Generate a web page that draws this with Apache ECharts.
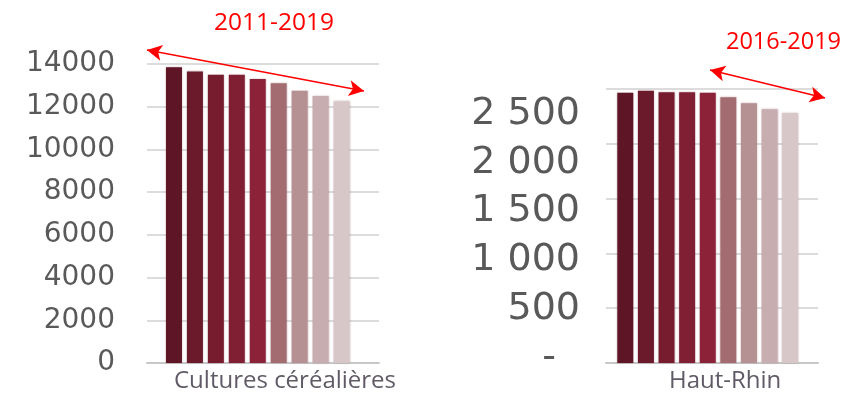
<!DOCTYPE html>
<html>
<head>
<meta charset="utf-8">
<script src="https://cdn.jsdelivr.net/npm/echarts@6/dist/echarts.min.js"></script>
<style>html,body{margin:0;padding:0;background:#fff}#c{width:847px;height:404px}</style>
</head>
<body>
<div id="c"></div>
<script>
const years = ['2011','2012','2013','2014','2015','2016','2017','2018','2019'];
const cerealValues = [13850, 13650, 13500, 13500, 13300, 13100, 12750, 12500, 12250];
const hautRhinValues = [2465, 2485, 2470, 2470, 2465, 2425, 2370, 2315, 2280];
const barColors = ['#5e1525','#6a1a2a','#771c2e','#801f33','#8b2238','#a36c71','#b69194','#c8adb0','#d8c7c9'];
const leftTitle = 'Cultures céréalières';
const rightTitle = 'Haut-Rhin';
const leftPeriod = '2011-2019';
const rightPeriod = '2016-2019';

const chart = echarts.init(document.getElementById('c'), null, {renderer: 'canvas'});
const labelFont = 'DejaVu Sans';
const fmtRight = v => {
  if (v === 0) return '-  ';
  if (v >= 1000) return Math.floor(v / 1000) + ' ' + String(v % 1000).padStart(3, '0');
  return String(v);
};
const fmtLeft = v => String(v);
const hiddenX = (gi) => ({type: 'category', gridIndex: gi, data: years, show: false});

chart.setOption({
  animation: false,
  color: barColors,
  title: [
    {text: leftTitle, left: 169, top: 364, textStyle: {fontFamily: 'Open Sans', fontSize: 24, fontWeight: 'normal', color: '#605a66'}},
    {text: rightTitle, left: 664, top: 364, textStyle: {fontFamily: 'Open Sans', fontSize: 24, fontWeight: 'normal', color: '#605a66'}},
    {text: leftPeriod, left: 209, top: 6, textStyle: {fontFamily: 'Open Sans', fontSize: 24.5, fontWeight: 'normal', color: '#ff0000'}},
    {text: rightPeriod, left: 721, top: 25, textStyle: {fontFamily: 'Open Sans', fontSize: 23.5, fontWeight: 'normal', color: '#ff0000'}}
  ],
  grid: [
    {left: 147, right: 468, top: 64, bottom: 41},      // 0 left gridlines
    {left: 163.5, right: 495, top: 64, bottom: 41},    // 1 left bars
    {left: 606, right: 29, top: 89, bottom: 41},       // 2 right gridlines
    {left: 615, right: 46.5, top: 89, bottom: 41},     // 3 right bars
    {left: 600, right: 29, top: 114, bottom: 46}       // 4 right labels
  ],
  xAxis: [
    {type: 'value', gridIndex: 0, min: 0, max: 1, axisLine: {show: true, onZero: false, lineStyle: {color: '#c8c8c8', width: 2}}, axisTick: {show: false}, axisLabel: {show: false}, splitLine: {show: false}},
    hiddenX(1),
    {type: 'value', gridIndex: 2, min: 0, max: 1, axisLine: {show: true, onZero: false, lineStyle: {color: '#c8c8c8', width: 2}}, axisTick: {show: false}, axisLabel: {show: false}, splitLine: {show: false}},
    hiddenX(3),
    {type: 'value', gridIndex: 4, min: 0, max: 1, show: false}
  ],
  yAxis: [
    {type: 'value', gridIndex: 0, min: 0, max: 14000, interval: 2000,
     axisLine: {show: false}, axisTick: {show: false},
     axisLabel: {margin: 32, fontFamily: labelFont, fontSize: 28, color: '#595959', formatter: fmtLeft},
     splitLine: {lineStyle: {color: '#dcdcdc', width: 2}}},
    {type: 'value', gridIndex: 1, min: 0, max: 14000, interval: 2000, show: false},
    {type: 'value', gridIndex: 2, min: 0, max: 2500, interval: 500,
     axisLine: {show: false}, axisTick: {show: false}, axisLabel: {show: false},
     splitLine: {lineStyle: {color: '#dcdcdc', width: 2}}},
    {type: 'value', gridIndex: 3, min: 0, max: 2500, interval: 500, show: false},
    {type: 'value', gridIndex: 4, min: 0, max: 2500, interval: 500,
     axisLine: {show: false}, axisTick: {show: false}, splitLine: {show: false},
     axisLabel: {margin: 20, fontFamily: labelFont, fontSize: 38, color: '#595959', formatter: fmtRight}}
  ],
  series: [
    {type: 'bar', xAxisIndex: 1, yAxisIndex: 1, data: cerealValues, barWidth: 16, colorBy: 'data',
     itemStyle: {shadowBlur: 2, shadowColor: 'rgba(120,60,70,0.35)'},
     markLine: {silent: true, symbol: ['arrow', 'arrow'], symbolSize: [12, 15], label: {show: false},
       lineStyle: {color: '#ff0000', width: 1.5, type: 'solid'},
       data: [[{x: 147, y: 50}, {x: 364, y: 91}]]}},
    {type: 'bar', xAxisIndex: 3, yAxisIndex: 3, data: hautRhinValues, barWidth: 16, colorBy: 'data',
     itemStyle: {shadowBlur: 2, shadowColor: 'rgba(120,60,70,0.35)'},
     markLine: {silent: true, symbol: ['arrow', 'arrow'], symbolSize: [12, 15], label: {show: false},
       lineStyle: {color: '#ff0000', width: 1.5, type: 'solid'},
       data: [[{x: 710, y: 70}, {x: 825, y: 98}]]}}
  ]
});
</script>
</body>
</html>
